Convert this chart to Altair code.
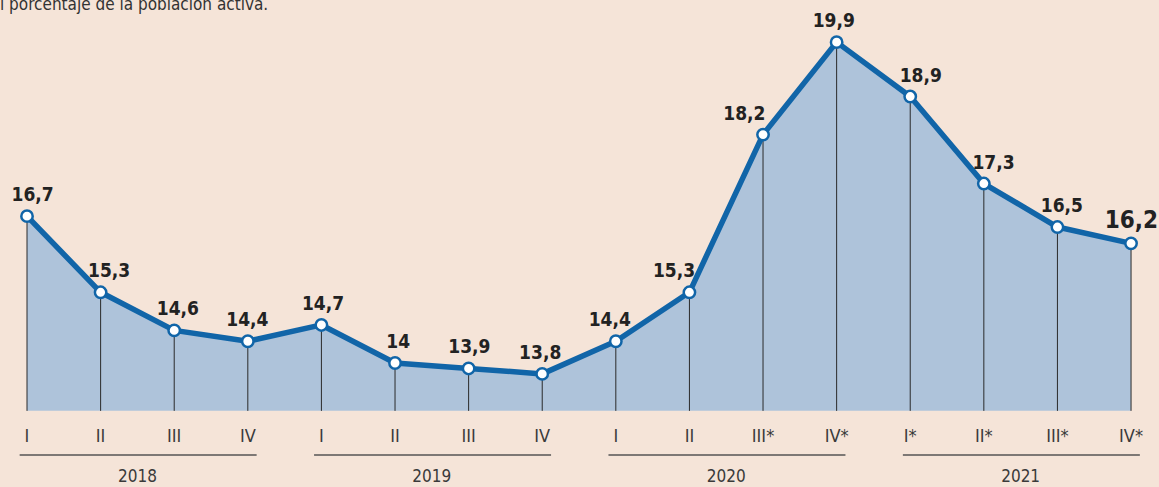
import altair as alt
import pandas as pd

quarters = ["I", "II", "III", "IV", "I", "II", "III", "IV",
            "I", "II", "III*", "IV*", "I*", "II*", "III*", "IV*"]
values = [16.7, 15.3, 14.6, 14.4, 14.7, 14.0, 13.9, 13.8,
          14.4, 15.3, 18.2, 19.9, 18.9, 17.3, 16.5, 16.2]
labels = ["16,7", "15,3", "14,6", "14,4", "14,7", "14", "13,9", "13,8",
          "14,4", "15,3", "18,2", "19,9", "18,9", "17,3", "16,5", "16,2"]
years = ["2018", "2019", "2020", "2021"]
subtitle = "l porcentaje de la población activa."

BASE = 13.12
FONT = "DejaVu Sans Condensed, Liberation Sans Narrow, sans-serif"
BG = "#f5e4d8"
BLUE = "#1165a8"
FILL = "#aec3da"

df = pd.DataFrame({
    "idx": list(range(len(values))),
    "value": values,
    "label": labels,
    "quarter": quarters,
    "base": [BASE] * len(values),
})
df["last"] = df["idx"] == len(values) - 1
# nudge labels away from the line depending on local slope
nxt = df["value"].shift(-1).fillna(df["value"])
prv = df["value"].shift(1).fillna(df["value"])
df["lx"] = df["idx"] - 0.055 * (nxt - prv)

ydf = pd.DataFrame({
    "year": years,
    "start": [4 * k - 0.1 for k in range(len(years))],
    "end": [4 * k + 3 + 0.12 for k in range(len(years))],
    "mid": [4 * k + 1.5 for k in range(len(years))],
})

xs = alt.Scale(domain=[-0.367, 15.38], nice=False, zero=False)
ysc = alt.Scale(domain=[11.72, 20.675], nice=False, zero=False)
X = alt.X("idx:Q", scale=xs, axis=None)
LX = alt.X("lx:Q", scale=xs, axis=None)
Y = alt.Y("value:Q", scale=ysc, axis=None)

base = alt.Chart(df)

area = base.mark_area(color=FILL, opacity=1).encode(
    x=X, y=Y, y2=alt.Y2("base:Q"))
rules = base.mark_rule(color="#2a2a2a", strokeWidth=1).encode(
    x=X, y=Y, y2=alt.Y2("base:Q"))
line = base.mark_line(color=BLUE, strokeWidth=5.5, strokeJoin="round").encode(
    x=X, y=Y)
points = base.mark_point(filled=True, fill="white", stroke=BLUE,
                         strokeWidth=2.5, size=130, opacity=1,
                         fillOpacity=1).encode(x=X, y=Y)
vlabels = base.transform_filter("!datum.last").mark_text(
    font=FONT, fontSize=19, fontWeight="bold", color="#222222",
    dy=-15, baseline="alphabetic").encode(x=LX, y=Y, text="label:N")
lastlabel = base.transform_filter("datum.last").mark_text(
    font=FONT, fontSize=24, fontWeight="bold", color="#222222",
    dy=-15, dx=27, align="right", baseline="alphabetic").encode(
    x=X, y=Y, text="label:N")
qlabels = base.mark_text(
    font=FONT, fontSize=18, color="#3a3a3a", baseline="middle").encode(
    x=X, y=alt.value(437), text="quarter:N")

ybase = alt.Chart(ydf)
brackets = ybase.mark_rule(color="#555555", strokeWidth=1.5).encode(
    x=alt.X("start:Q", scale=xs, axis=None),
    x2="end:Q",
    y=alt.value(455))
ylabels = ybase.mark_text(
    font=FONT, fontSize=17, color="#3a3a3a", baseline="middle").encode(
    x=alt.X("mid:Q", scale=xs, axis=None),
    y=alt.value(477), text="year:N")

title = alt.Chart(pd.DataFrame({"t": [subtitle]})).mark_text(
    font=FONT, fontSize=17, color="#333333", align="left",
    baseline="alphabetic").encode(
    x=alt.value(0), y=alt.value(10), text="t:N")

chart = alt.layer(
    area, rules, line, points, vlabels, lastlabel, qlabels,
    brackets, ylabels, title
).properties(
    width=1159, height=487, background=BG,
    padding=0, autosize=alt.AutoSizeParams(type="none")
).configure_view(stroke=None)

chart.save("out.html", embed_options={"renderer": "svg", "actions": False})
